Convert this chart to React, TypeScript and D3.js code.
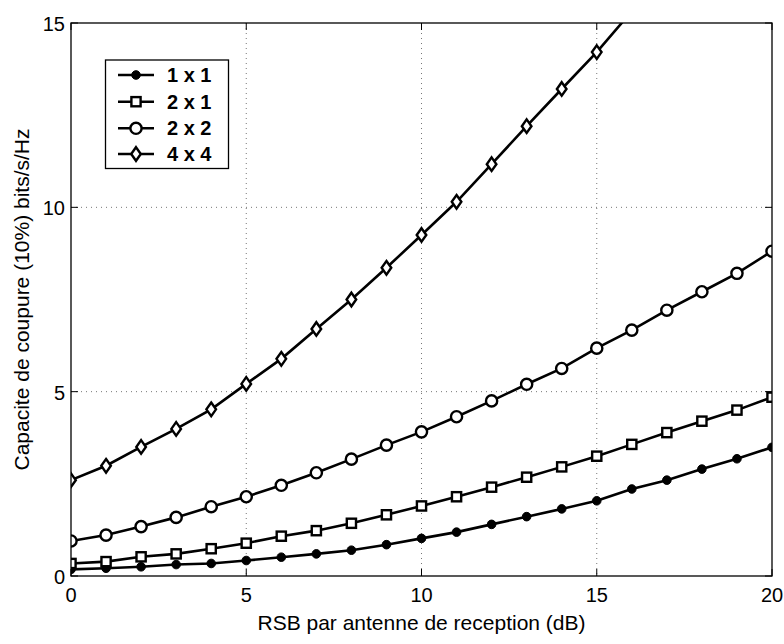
import React from "react";
import * as d3 from "d3";

const snr = [0,1,2,3,4,5,6,7,8,9,10,11,12,13,14,15,16,17,18,19,20];
const cap1x1 = [0.18,0.21,0.25,0.31,0.34,0.42,0.51,0.60,0.70,0.85,1.02,1.19,1.40,1.61,1.82,2.04,2.36,2.60,2.90,3.18,3.49];
const cap2x1 = [0.34,0.39,0.52,0.60,0.74,0.89,1.08,1.23,1.43,1.66,1.90,2.15,2.41,2.68,2.96,3.25,3.57,3.89,4.20,4.50,4.85];
const cap2x2 = [0.95,1.11,1.34,1.59,1.88,2.15,2.46,2.80,3.17,3.55,3.91,4.32,4.75,5.20,5.63,6.18,6.67,7.21,7.71,8.21,8.81];
const cap4x4 = [2.60,2.99,3.50,3.99,4.52,5.21,5.89,6.70,7.50,8.36,9.25,10.15,11.17,12.20,13.21,14.21,15.32,16.45,17.6,18.8,20.0];
const seriesNames = ["1 x 1", "2 x 1", "2 x 2", "4 x 4"];
const markerKinds = ["dot", "square", "circle", "diamond"];
const xTicks = [0, 5, 10, 15, 20];
const yTicks = [0, 5, 10, 15];

const W = 784, H = 644;
const L = 71, R = 772, T = 23, B = 576;

function Marker({ kind, x, y }: { kind: string; x: number; y: number }) {
  if (kind === "dot") return <circle cx={x} cy={y} r={4.3} fill="#000" stroke="#000" strokeWidth={1} />;
  if (kind === "square") return <rect x={x - 4.6} y={y - 4.6} width={9.2} height={9.2} fill="#fff" stroke="#000" strokeWidth={2.4} />;
  if (kind === "circle") return <circle cx={x} cy={y} r={5.6} fill="#fff" stroke="#000" strokeWidth={2.4} />;
  return <path d={`M${x},${y - 6.8}L${x + 4.8},${y}L${x},${y + 6.8}L${x - 4.8},${y}Z`} fill="#fff" stroke="#000" strokeWidth={2.4} />;
}

export default function App() {
  const x = d3.scaleLinear().domain([0, 20]).range([L, R]);
  const y = d3.scaleLinear().domain([0, 15]).range([B, T]);
  const data = [cap1x1, cap2x1, cap2x2, cap4x4];
  const line = d3.line<number>().x((_, i) => x(snr[i])).y((d) => y(d));
  const font = "'Liberation Sans', Arial, sans-serif";
  const legendRows = [75, 101.7, 128.3, 154];

  return (
    <svg width={W} height={H} style={{ position: "absolute", left: 0, top: 0, background: "#fff" }}>
      <defs>
        <clipPath id="plotclip">
          <rect x={L} y={T} width={R - L} height={B - T} />
        </clipPath>
      </defs>
      <rect x={0} y={0} width={W} height={H} fill="#fff" />
      {xTicks.slice(1, -1).map((t) => (
        <line key={"gx" + t} x1={x(t)} x2={x(t)} y1={T} y2={B} stroke="#777" strokeWidth={1} strokeDasharray="1,4" />
      ))}
      {yTicks.slice(1, -1).map((t) => (
        <line key={"gy" + t} x1={L} x2={R} y1={y(t)} y2={y(t)} stroke="#777" strokeWidth={1} strokeDasharray="1,4" />
      ))}
      {xTicks.map((t) => (
        <g key={"tx" + t}>
          <line x1={x(t)} x2={x(t)} y1={B} y2={B - 7} stroke="#000" />
          <line x1={x(t)} x2={x(t)} y1={T} y2={T + 7} stroke="#000" />
          <text x={x(t)} y={B + 26} textAnchor="middle" fontFamily={font} fontSize={20}>{t}</text>
        </g>
      ))}
      {yTicks.map((t) => (
        <g key={"ty" + t}>
          <line x1={L} x2={L + 7} y1={y(t)} y2={y(t)} stroke="#000" />
          <line x1={R} x2={R - 7} y1={y(t)} y2={y(t)} stroke="#000" />
          <text x={L - 6} y={y(t) + 8} textAnchor="end" fontFamily={font} fontSize={20}>{t}</text>
        </g>
      ))}
      <g clipPath="url(#plotclip)">
        {data.map((vals, si) => (
          <g key={"s" + si}>
            <path d={line(vals) || ""} fill="none" stroke="#000" strokeWidth={2.6} />
            {vals.map((v, i) => (
              <Marker key={i} kind={markerKinds[si]} x={x(snr[i])} y={y(v)} />
            ))}
          </g>
        ))}
      </g>
      <rect x={L} y={T} width={R - L} height={B - T} fill="none" stroke="#000" strokeWidth={1.3} />
      <rect x={105.5} y={60} width={123} height={108.5} fill="#fff" stroke="#000" strokeWidth={1.3} />
      {seriesNames.map((n, i) => (
        <g key={"lg" + i}>
          <line x1={118} x2={154} y1={legendRows[i]} y2={legendRows[i]} stroke="#000" strokeWidth={2.6} />
          <Marker kind={markerKinds[i]} x={136} y={legendRows[i]} />
          <text x={167} y={legendRows[i] + 7} fontFamily={font} fontSize={20} fontWeight="bold">{n}</text>
        </g>
      ))}
      <text x={(L + R) / 2} y={630} textAnchor="middle" fontFamily={font} fontSize={21}>RSB par antenne de reception (dB)</text>
      <text transform={`translate(29,${(T + B) / 2}) rotate(-90)`} textAnchor="middle" fontFamily={font} fontSize={21}>Capacite de coupure (10%) bits/s/Hz</text>
    </svg>
  );
}
